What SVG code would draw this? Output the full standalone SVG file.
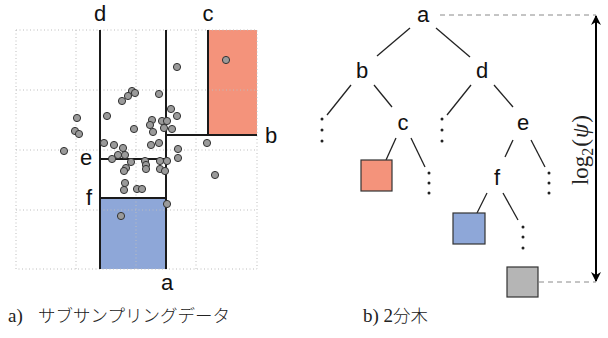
<svg xmlns="http://www.w3.org/2000/svg" width="608" height="338" viewBox="0 0 608 338">
  <defs>
    <marker id="arrowhead" viewBox="0 0 10 10" refX="9" refY="5" markerWidth="5" markerHeight="5" orient="auto-start-reverse" markerUnits="strokeWidth">
      <path d="M0,0 L10,5 L0,10 L3,5 Z" fill="#000"/>
    </marker>
  </defs>
  <style>
    .lbl { font-family: "Liberation Sans", Arial, sans-serif; font-size: 22px; fill: #111; text-anchor: middle; }
    .grid { stroke: #bdbdbd; stroke-width: 1; stroke-dasharray: 1 2.5; fill: none; }
    .split { stroke: #1a1a1a; stroke-width: 2; fill: none; }
    .pt { fill: #9a9a9a; stroke: #333; stroke-width: 1; }
    .edge { stroke: #222; stroke-width: 1.3; fill: none; }
    .dots { fill: #222; }
    .guide { stroke: #8a8a8a; stroke-width: 1; stroke-dasharray: 5 4; fill: none; }
    .cap { font-family: "Liberation Serif", "Noto Sans CJK JP", serif; font-size: 19px; fill: #222; }
    .jp { font-family: "Noto Sans CJK JP", sans-serif; font-weight: 300; font-size: 17.5px; }
  </style>

  <!-- a) sub-sampled data with axis-aligned splits -->
  <g id="partition">
    <rect x="208" y="30" width="49" height="105" fill="#f4937b"/>
    <rect x="100" y="198" width="66" height="71" fill="#8ea7d8"/>
    <g class="grid">
      <rect x="16" y="30" width="241" height="239"/>
      <line x1="76" y1="30" x2="76" y2="269"/>
      <line x1="136" y1="30" x2="136" y2="269"/>
      <line x1="196" y1="30" x2="196" y2="269"/>
      <line x1="16" y1="90" x2="257" y2="90"/>
      <line x1="16" y1="150" x2="257" y2="150"/>
      <line x1="16" y1="210" x2="257" y2="210"/>
    </g>
    <g class="split">
      <line x1="100" y1="30" x2="100" y2="269"/>
      <line x1="166" y1="30" x2="166" y2="269"/>
      <line x1="208" y1="30" x2="208" y2="135"/>
      <line x1="166" y1="135" x2="257" y2="135"/>
      <line x1="100" y1="159" x2="166" y2="159"/>
      <line x1="100" y1="198" x2="166" y2="198"/>
    </g>
    <g id="samples">
      <circle class="pt" cx="226" cy="60" r="3.6"/>
      <circle class="pt" cx="177" cy="67" r="3.6"/>
      <circle class="pt" cx="132" cy="91" r="3.6"/>
      <circle class="pt" cx="135" cy="93" r="3.6"/>
      <circle class="pt" cx="128" cy="96" r="3.6"/>
      <circle class="pt" cx="122" cy="101" r="3.6"/>
      <circle class="pt" cx="159" cy="94" r="3.6"/>
      <circle class="pt" cx="77" cy="118" r="3.6"/>
      <circle class="pt" cx="75" cy="131" r="3.6"/>
      <circle class="pt" cx="79" cy="134" r="3.6"/>
      <circle class="pt" cx="64" cy="151" r="3.6"/>
      <circle class="pt" cx="107" cy="116" r="3.6"/>
      <circle class="pt" cx="134" cy="129" r="3.6"/>
      <circle class="pt" cx="171" cy="109" r="3.6"/>
      <circle class="pt" cx="177" cy="116" r="3.6"/>
      <circle class="pt" cx="152" cy="120" r="3.6"/>
      <circle class="pt" cx="150" cy="125" r="3.6"/>
      <circle class="pt" cx="162" cy="121" r="3.6"/>
      <circle class="pt" cx="167" cy="121" r="3.6"/>
      <circle class="pt" cx="164" cy="128" r="3.6"/>
      <circle class="pt" cx="172" cy="129" r="3.6"/>
      <circle class="pt" cx="153" cy="132" r="3.6"/>
      <circle class="pt" cx="104" cy="143" r="3.6"/>
      <circle class="pt" cx="114" cy="145" r="3.6"/>
      <circle class="pt" cx="123" cy="148" r="3.6"/>
      <circle class="pt" cx="151" cy="145" r="3.6"/>
      <circle class="pt" cx="159" cy="143" r="3.6"/>
      <circle class="pt" cx="118" cy="155" r="3.6"/>
      <circle class="pt" cx="125" cy="155" r="3.6"/>
      <circle class="pt" cx="112" cy="159" r="3.6"/>
      <circle class="pt" cx="131" cy="162" r="3.6"/>
      <circle class="pt" cx="145" cy="161" r="3.6"/>
      <circle class="pt" cx="146" cy="165" r="3.6"/>
      <circle class="pt" cx="146" cy="169" r="3.6"/>
      <circle class="pt" cx="126" cy="168" r="3.6"/>
      <circle class="pt" cx="124" cy="171" r="3.6"/>
      <circle class="pt" cx="160" cy="161" r="3.6"/>
      <circle class="pt" cx="167" cy="161" r="3.6"/>
      <circle class="pt" cx="160" cy="169" r="3.6"/>
      <circle class="pt" cx="165" cy="171" r="3.6"/>
      <circle class="pt" cx="178" cy="149" r="3.6"/>
      <circle class="pt" cx="178" cy="158" r="3.6"/>
      <circle class="pt" cx="207" cy="143" r="3.6"/>
      <circle class="pt" cx="215" cy="175" r="3.6"/>
      <circle class="pt" cx="125" cy="183" r="3.6"/>
      <circle class="pt" cx="124" cy="190" r="3.6"/>
      <circle class="pt" cx="137" cy="189" r="3.6"/>
      <circle class="pt" cx="142" cy="189" r="3.6"/>
      <circle class="pt" cx="167" cy="204" r="3.6"/>
      <circle class="pt" cx="121" cy="216" r="3.6"/>
    </g>
    <text class="lbl" x="100" y="21">d</text>
    <text class="lbl" x="208" y="21">c</text>
    <text class="lbl" x="271" y="143">b</text>
    <text class="lbl" x="86" y="165">e</text>
    <text class="lbl" x="89" y="205">f</text>
    <text class="lbl" x="167" y="290">a</text>
  </g>

  <!-- b) binary tree -->
  <g id="connectors">
    <line class="edge" x1="410" y1="28" x2="377" y2="56"/>
    <line class="edge" x1="436" y1="28" x2="470" y2="57"/>
    <line class="edge" x1="351" y1="85" x2="327" y2="115"/>
    <line class="edge" x1="374" y1="85" x2="392" y2="107"/>
    <line class="edge" x1="471" y1="85" x2="447" y2="115"/>
    <line class="edge" x1="494" y1="85" x2="513" y2="107"/>
    <line class="edge" x1="396" y1="138" x2="386" y2="160"/>
    <line class="edge" x1="411" y1="138" x2="425" y2="167"/>
    <line class="edge" x1="513" y1="140" x2="505" y2="157"/>
    <line class="edge" x1="531" y1="140" x2="545" y2="167"/>
    <line class="edge" x1="487" y1="193" x2="477" y2="213"/>
    <line class="edge" x1="503" y1="193" x2="518" y2="220"/>
  </g>

  <g id="node-a"><text class="lbl" x="423" y="22">a</text></g>
  <g id="node-b"><text class="lbl" x="362" y="78">b</text></g>
  <g id="node-d"><text class="lbl" x="482" y="78">d</text></g>
  <g id="node-c"><text class="lbl" x="403" y="130">c</text></g>
  <g id="node-e"><text class="lbl" x="523" y="130">e</text></g>
  <g id="node-f"><text class="lbl" x="497" y="185">f</text></g>

  <g id="leaf-red"><rect x="361" y="160" width="31" height="31" fill="#f4937b" stroke="#333" stroke-width="1.2"/></g>
  <g id="leaf-blue"><rect x="453" y="213" width="32" height="31" fill="#8ea7d8" stroke="#333" stroke-width="1.2"/></g>
  <g id="leaf-gray"><rect x="507" y="267" width="31" height="30" fill="#b5b5b5" stroke="#333" stroke-width="1.2"/></g>

  <g id="ellipses" class="dots">
    <circle cx="322" cy="119" r="1.5"/><circle cx="322" cy="130" r="1.5"/><circle cx="322" cy="141" r="1.5"/>
    <circle cx="442" cy="119" r="1.5"/><circle cx="442" cy="130" r="1.5"/><circle cx="442" cy="141" r="1.5"/>
    <circle cx="429" cy="173" r="1.5"/><circle cx="429" cy="183" r="1.5"/><circle cx="429" cy="193" r="1.5"/>
    <circle cx="549" cy="173" r="1.5"/><circle cx="549" cy="183" r="1.5"/><circle cx="549" cy="193" r="1.5"/>
    <circle cx="523" cy="227" r="1.5"/><circle cx="523" cy="237" r="1.5"/><circle cx="523" cy="248" r="1.5"/>
  </g>

  <!-- depth measure -->
  <g id="depth">
    <line class="guide" x1="440" y1="15" x2="596" y2="15"/>
    <line class="guide" x1="539" y1="282" x2="596" y2="282"/>
    <line x1="596" y1="16" x2="596" y2="281" stroke="#000" stroke-width="2" marker-start="url(#arrowhead)" marker-end="url(#arrowhead)"/>
    <text transform="translate(588,150) rotate(-90)" text-anchor="middle" font-family="Liberation Serif, serif" font-size="23" fill="#222">log<tspan font-size="16" dy="5">2</tspan><tspan dy="-5" dx="1">(</tspan><tspan font-style="italic" dx="1">ψ</tspan><tspan dx="1">)</tspan></text>
  </g>

  <!-- captions -->
  <text class="cap" x="8" y="322">a)<tspan class="jp" x="38">サブサンプリングデータ</tspan></text>
  <text class="cap" x="363" y="322">b) 2<tspan class="jp">分木</tspan></text>
</svg>
